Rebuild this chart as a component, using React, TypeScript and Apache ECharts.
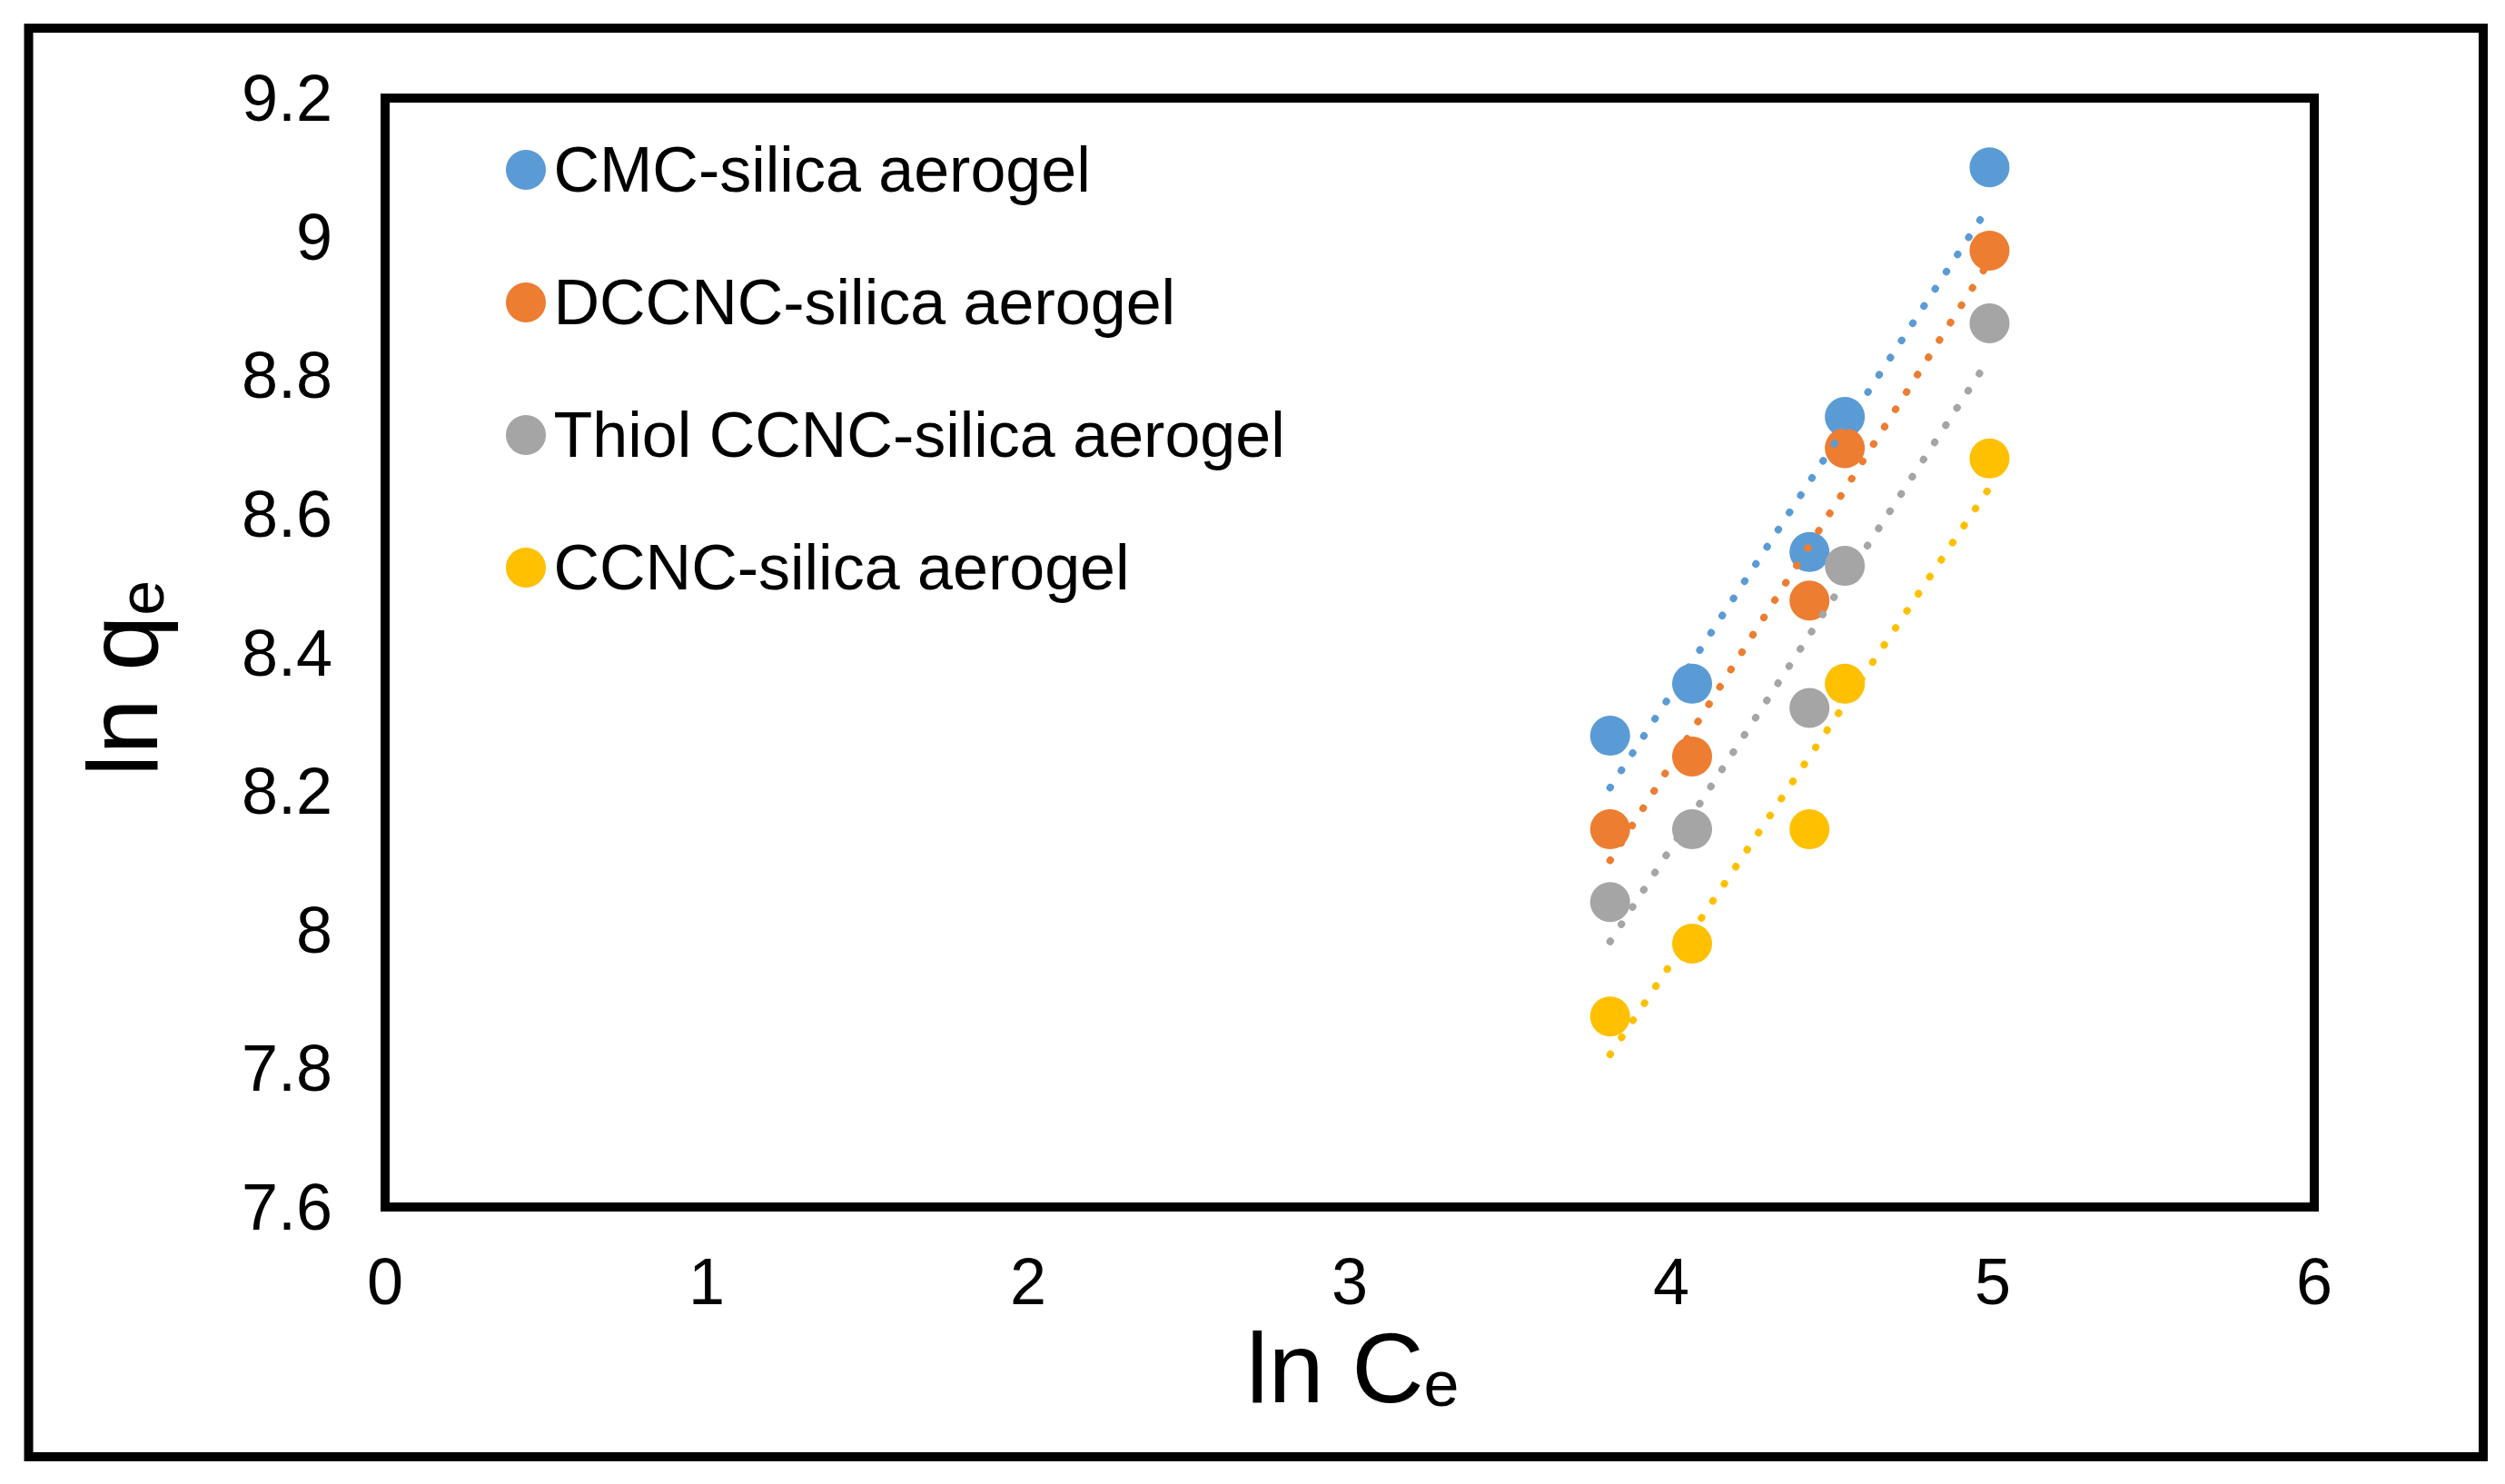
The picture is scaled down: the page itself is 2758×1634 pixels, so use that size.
import React, { useEffect, useRef } from 'react';
import * as echarts from 'echarts';

const FONT = "'Liberation Sans', Arial, sans-serif";

// ln Ce, the same five concentrations for every aerogel
const lnCe = [3.81, 4.065, 4.43, 4.54, 4.99];

const seriesNames = [
  'CMC-silica aerogel',
  'DCCNC-silica aerogel',
  'Thiol CCNC-silica aerogel',
  'CCNC-silica aerogel',
];
const seriesColors = ['#5B9BD5', '#ED7D31', '#A5A5A5', '#FFC000'];

// ln qe per aerogel
const cmcLnQe = [8.28, 8.355, 8.545, 8.74, 9.1];
const dccncLnQe = [8.145, 8.25, 8.475, 8.695, 8.98];
const thiolLnQe = [8.04, 8.145, 8.32, 8.525, 8.875];
const ccncLnQe = [7.875, 7.98, 8.145, 8.355, 8.68];

// linear trendlines, ends read at first and last ln Ce
const trendX = [3.81, 4.99];
const cmcTrend = [8.205, 9.045];
const dccncTrend = [8.1, 8.965];
const thiolTrend = [7.983, 8.825];
const ccncTrend = [7.82, 8.638];

// axis ranges / tick steps
const xRange = [0, 6, 1];
const yRange = [7.6, 9.2, 0.2];

const values = [cmcLnQe, dccncLnQe, thiolLnQe, ccncLnQe];
const trends = [cmcTrend, dccncTrend, thiolTrend, ccncTrend];

const App: React.FC = () => {
  const ref = useRef<HTMLDivElement>(null);

  useEffect(() => {
    if (!ref.current) return;
    const chart = echarts.init(ref.current, null, { renderer: 'svg' });

    const scatter = seriesNames.map((name, s) => ({
      type: 'scatter' as const,
      name,
      data: lnCe.map((x, i) => [x, values[s][i]]),
      symbol: 'circle',
      symbolSize: 44,
      itemStyle: { color: seriesColors[s], opacity: 1 },
      z: 2,
    }));

    const trendLines = seriesNames.map((name, s) => ({
      type: 'line' as const,
      name: name + ' (linear)',
      data: trendX.map((x, i) => [x, trends[s][i]]),
      symbol: 'none',
      silent: true,
      lineStyle: { color: seriesColors[s], width: 8, type: [0.5, 22.1], cap: 'round' },
      z: 3,
    }));

    const option: echarts.EChartsOption = {
      animation: false,
      backgroundColor: '#fff',
      grid: { left: 424, top: 108, right: 210, bottom: 305, show: true, borderColor: '#000', borderWidth: 10 },
      xAxis: {
        type: 'value',
        min: xRange[0],
        max: xRange[1],
        interval: xRange[2],
        axisLine: { show: false },
        axisTick: { show: false },
        splitLine: { show: false },
        axisLabel: { color: '#000', fontSize: 72, fontFamily: FONT, margin: 46 },
      },
      yAxis: {
        type: 'value',
        min: yRange[0],
        max: yRange[1],
        interval: yRange[2],
        axisLine: { show: false },
        axisTick: { show: false },
        splitLine: { show: false },
        axisLabel: { color: '#000', fontSize: 72, fontFamily: FONT, margin: 58 },
      },
      legend: {
        data: seriesNames,
        orient: 'vertical',
        left: 557,
        top: 152,
        padding: 0,
        itemWidth: 51,
        itemHeight: 44,
        itemGap: 76,
        icon: 'circle',
        textStyle: { color: '#000', fontSize: 70, fontFamily: FONT },
      },
      graphic: [
        {
          type: 'rect',
          shape: { x: 31.5, y: 31, width: 2702.5, height: 1573 },
          style: { fill: 'none', stroke: '#000', lineWidth: 10 },
        },
        {
          type: 'text',
          x: 1372,
          y: 1505,
          style: { text: 'ln C', fontSize: 110, fontFamily: FONT, fill: '#000', align: 'left', verticalAlign: 'middle' },
        },
        {
          type: 'text',
          x: 1567.6,
          y: 1524,
          style: { text: 'e', fontSize: 70, fontFamily: FONT, fill: '#000', align: 'left', verticalAlign: 'middle' },
        },
        {
          type: 'text',
          x: 134,
          y: 855,
          rotation: Math.PI / 2,
          style: { text: 'ln q', fontSize: 110, fontFamily: FONT, fill: '#000', align: 'left', verticalAlign: 'middle' },
        },
        {
          type: 'text',
          x: 156,
          y: 677.7,
          rotation: Math.PI / 2,
          style: { text: 'e', fontSize: 70, fontFamily: FONT, fill: '#000', align: 'left', verticalAlign: 'middle' },
        },
      ],
      series: [...scatter, ...trendLines],
    };

    chart.setOption(option);
    return () => chart.dispose();
  }, []);

  return (
    <div
      ref={ref}
      style={{ position: 'fixed', left: 0, top: 0, width: 2758, height: 1634, background: '#fff' }}
    />
  );
};

export default App;
